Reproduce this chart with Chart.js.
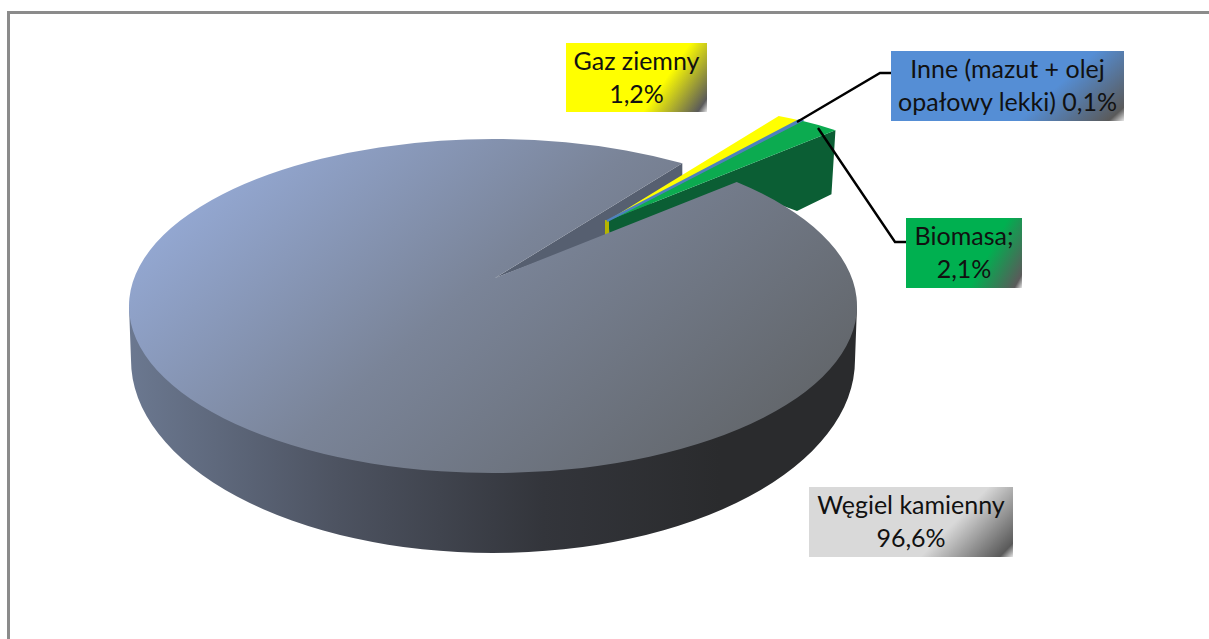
<!DOCTYPE html>
<html>
<head>
<meta charset="utf-8">
<title>Paliwa</title>
<script src="https://cdn.jsdelivr.net/npm/chart.js@4"></script>
<style>
  html, body { margin: 0; padding: 0; background: #fff; overflow: hidden; }
  #wrap { position: relative; width: 1209px; height: 639px; overflow: hidden; }
  #frame { position: absolute; left: 7px; top: 11px; width: 1300px; height: 700px; border: 3px solid #8b8b8b; }
  canvas { position: absolute; left: 0; top: 0; }
  .lbl {
    position: absolute; box-sizing: border-box; text-align: center;
    font-family: Lato, "Open Sans", sans-serif; font-size: 25px; line-height: 33px;
    color: #111; padding: 1px 3px 0;
  }
</style>
</head>
<body>
<div id="wrap">
  <div id="frame"></div>
  <canvas id="chart" width="1209" height="639"></canvas>
</div>
<script>
// Values, clockwise from the big slice
const categories = ['Węgiel kamienny', 'Gaz ziemny', 'Inne (mazut + olej opałowy lekki)', 'Biomasa;'];
const shares = [96.6, 1.2, 0.1, 2.1];
const sliceColors = ['#7f8fae', '#ffff00', '#4f81bd', '#0cab50'];
const wallColors = ['#565f70', '#b5b500', '#3a5f8c', '#0b5e34'];
const boxColors = ['#d9d9d9', '#ffff00', '#558ed5', '#00b050'];

// Label boxes, same order as categories
const boxes = [
    { x: 809, y: 487, w: 204, h: 70 },
    { x: 566, y: 43, w: 141, h: 69 },
    { x: 891, y: 51, w: 233, h: 70 },
    { x: 906, y: 218, w: 116, h: 70 }
];

const SQUASH = 167 / 364;
const ROTATION = 49.1;
// top face of the big slice: apex sits off the circle centre because of the perspective
const bigApex = { x: 495, y: 278 };
const bigRim = { x: 493, y: 306, r: 364 };
// the small slices are pulled out together
const smallApex = { x: 607, y: 221 };
const smallRim = { x: 666, y: 241, r: 295 };

// where a ray from the apex meets the rim circle, both squashed in y
function rimAngle(apex, rim, angle) {
    const ax = apex.x - rim.x;
    const ay = (apex.y - rim.y) / SQUASH;
    const dx = Math.cos(angle);
    const dy = Math.sin(angle);
    const b = ax * dx + ay * dy;
    const c = ax * ax + ay * ay - rim.r * rim.r;
    const t = -b + Math.sqrt(b * b - c);
    return Math.atan2(ay + t * dy, ax + t * dx);
}

function rimPoint(rim, a) {
    return { x: rim.x + rim.r * Math.cos(a), y: rim.y + rim.r * SQUASH * Math.sin(a) };
}

function sector(ctx, apex, rim, start, end) {
    let a0 = rimAngle(apex, rim, start);
    let a1 = rimAngle(apex, rim, end);
    if (a1 < a0) a1 += Math.PI * 2;
    ctx.beginPath();
    ctx.moveTo(apex.x, apex.y);
    ctx.ellipse(rim.x, rim.y, rim.r, rim.r * SQUASH, 0, a0, a1);
    ctx.closePath();
}

function polygon(ctx, pts, fill) {
    ctx.beginPath();
    pts.forEach((p, i) => i ? ctx.lineTo(p.x, p.y) : ctx.moveTo(p.x, p.y));
    ctx.closePath();
    ctx.fillStyle = fill;
    ctx.fill();
}

const pie3d = {
    id: 'pie3d',
    beforeDatasetDraw(chart) {
        const ctx = chart.ctx;
        const arcs = chart.getDatasetMeta(0).data;
        const big = arcs[0];

        ctx.save();

        // outer wall of the big slice
        const side = ctx.createLinearGradient(130, 0, 720, 0);
        side.addColorStop(0, '#6b7890');
        side.addColorStop(0.35, '#4d5361');
        side.addColorStop(0.7, '#33353b');
        side.addColorStop(1, '#2a2b2d');
        ctx.beginPath();
        ctx.moveTo(129, 306);
        ctx.ellipse(493, 360, 362, 193, 0, Math.PI, 0, true);
        ctx.lineTo(857, 306);
        ctx.closePath();
        ctx.fillStyle = side;
        ctx.fill();

        // inner wall seen through the gap
        const p = rimPoint(bigRim, rimAngle(bigApex, bigRim, big.endAngle));
        polygon(ctx, [bigApex, p, { x: p.x, y: p.y + 18 }, { x: 606, y: 236 }], wallColors[0]);

        // small slices: walls first, then top faces
        const g = arcs[3];
        const gTip = rimPoint(smallRim, rimAngle(smallApex, smallRim, g.endAngle));
        polygon(ctx, [
            smallApex, gTip, { x: gTip.x - 4, y: gTip.y + 64 }, { x: 797, y: 211 },
            { x: 740, y: 190 }, { x: 611, y: 236 }
        ], wallColors[3]);
        polygon(ctx, [{ x: 605, y: 220 }, { x: 609, y: 220 }, { x: 609, y: 236 }, { x: 605, y: 236 }], wallColors[1]);
        [1, 3, 2].forEach(i => {
            sector(ctx, smallApex, smallRim, arcs[i].startAngle, arcs[i].endAngle);
            ctx.fillStyle = arcs[i].options.backgroundColor;
            ctx.fill();
            if (i === 2) {
                // 0,1% is under a pixel wide, the original draws it as a thin strip
                ctx.strokeStyle = arcs[i].options.backgroundColor;
                ctx.lineWidth = 2.5;
                ctx.stroke();
            }
        });

        // top face of the big slice
        const top = ctx.createLinearGradient(280, 130, 640, 540);
        top.addColorStop(0, '#93a7d1');
        top.addColorStop(0.45, '#7a8498');
        top.addColorStop(1, '#63676c');
        sector(ctx, bigApex, bigRim, big.startAngle, big.endAngle);
        ctx.fillStyle = top;
        ctx.fill();

        // leader lines
        ctx.strokeStyle = '#000';
        ctx.lineWidth = 2.4;
        ctx.beginPath();
        ctx.moveTo(797, 122); ctx.lineTo(880, 73); ctx.lineTo(891, 73);
        ctx.moveTo(818, 128); ctx.lineTo(895, 242); ctx.lineTo(906, 242);
        ctx.stroke();

        ctx.restore();
        return false;
    }
};

new Chart(document.getElementById('chart'), {
    type: 'pie',
    data: {
        labels: categories,
        datasets: [{ data: shares, backgroundColor: sliceColors, borderWidth: 0 }]
    },
    options: {
        responsive: false,
        animation: false,
        rotation: ROTATION,
        events: [],
        plugins: { legend: { display: false }, tooltip: { enabled: false } }
    },
    plugins: [pie3d]
});

// Data labels with the little dark corner
const wrap = document.getElementById('wrap');
categories.forEach((name, i) => {
    const b = boxes[i];
    const el = document.createElement('div');
    el.className = 'lbl';
    el.textContent = name + ' ' + shares[i].toFixed(1).replace('.', ',') + '%';
    el.style.left = b.x + 'px';
    el.style.top = b.y + 'px';
    el.style.width = b.w + 'px';
    el.style.height = b.h + 'px';
    const angle = Math.atan2(b.w, b.h * 3) * 180 / Math.PI + 90;
    el.style.background = `linear-gradient(${angle}deg, ${boxColors[i]} 66%, #5a5a5a 95%, #e8e8e8 100%)`;
    wrap.appendChild(el);
});
</script>
</body>
</html>
